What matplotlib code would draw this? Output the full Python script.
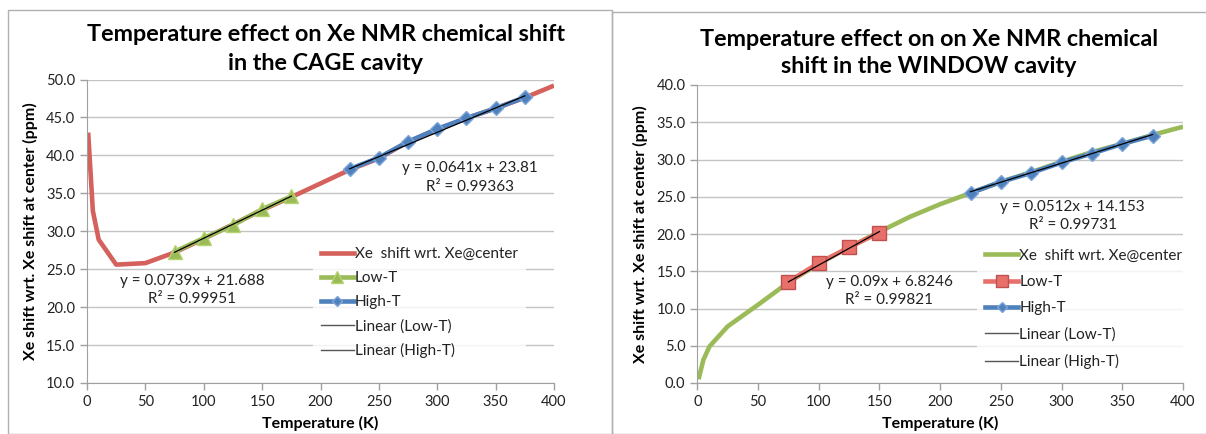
import numpy as np
import matplotlib.pyplot as plt
from matplotlib.lines import Line2D

plt.rcParams['font.family'] = ['Lato', 'DejaVu Sans']

# CAGE cavity
cage_T = [1, 5, 10, 25, 50, 75, 100, 125, 150, 175, 200, 225, 250, 275, 300, 325, 350, 375, 400]
cage_shift = [43.0, 32.7, 28.9, 25.6, 25.8, 27.2, 29.0, 30.9, 32.8, 34.5, 36.3, 38.1, 39.6,
              41.8, 43.4, 44.9, 46.2, 47.6, 49.2]
cage_low_T = [75, 100, 125, 150, 175]
cage_low_y = [27.3, 29.1, 30.8, 32.9, 34.6]
cage_high_T = [225, 250, 275, 300, 325, 350, 375]
cage_high_y = [38.2, 39.7, 41.8, 43.5, 44.9, 46.2, 47.65]
cage_low_fit = (0.0739, 21.688, '0.0739x + 21.688', '0.99951')
cage_high_fit = (0.0641, 23.81, '0.0641x + 23.81', '0.99363')

# WINDOW cavity
win_T = [1, 5, 10, 25, 50, 75, 100, 125, 150, 175, 200, 225, 250, 275, 300, 325, 350, 375, 400]
win_shift = [0.5, 3.1, 4.9, 7.6, 10.5, 13.5, 16.0, 18.2, 20.3, 22.3, 24.0, 25.5, 27.0, 28.3,
             29.7, 31.0, 32.1, 33.3, 34.4]
win_low_T = [75, 100, 125, 150]
win_low_y = [13.6, 16.1, 18.2, 20.2]
win_high_T = [225, 250, 275, 300, 325, 350, 375]
win_high_y = [25.5, 27.0, 28.2, 29.6, 30.8, 32.1, 33.2]
win_low_fit = (0.09, 6.8246, '0.09x + 6.8246', '0.99821')
win_high_fit = (0.0512, 14.153, '0.0512x + 14.153', '0.99731')

RED, RED_EDGE = '#d4615c', '#c0504d'
GREEN, GREEN_EDGE = '#9bbb59', '#b5d36f'
BLUE, BLUE_EDGE = '#4f81bd', '#7ea6d9'

W, H = 1206, 434
fig = plt.figure(figsize=(W / 100, H / 100), dpi=100)

# chart frames
fig.add_artist(plt.Rectangle((8 / W, 0), 604 / W, 1 - 10 / H, transform=fig.transFigure,
                             fill=False, ec='#b0b0b0', lw=1))
fig.add_artist(plt.Rectangle((612 / W, 0), 600 / W, 1 - 12 / H, transform=fig.transFigure,
                             fill=False, ec='#b0b0b0', lw=1))


def px_axes(x0, x1, ytop, ybot):
    return fig.add_axes([x0 / W, 1 - ybot / H, (x1 - x0) / W, (ybot - ytop) / H])


def style(ax, ylo, yhi):
    ax.set_xlim(0, 400)
    ax.set_ylim(ylo, yhi)
    ax.set_xticks(np.arange(0, 401, 50))
    ax.set_yticks(np.arange(ylo, yhi + 0.1, 5))
    ax.yaxis.set_major_formatter(plt.FormatStrFormatter('%.1f'))
    ax.grid(axis='y', color='#c4c4c4', lw=1)
    ax.set_axisbelow(True)
    for s in ['top', 'right']:
        ax.spines[s].set_visible(False)
    for s in ['left', 'bottom']:
        ax.spines[s].set_color('#a0a0a0')
    ax.tick_params(colors='#a0a0a0', labelcolor='#222222', labelsize=10.5, length=5, width=1)
    ax.set_xlabel('Temperature (K)', fontsize=11.5, fontweight='bold', labelpad=5)
    ax.set_ylabel('Xe shift wrt. Xe shift at center (ppm)', fontsize=11.5, fontweight='bold',
                  labelpad=6)


def draw(ax, T, y, main_c, lowT, lowy, low_c, low_ec, low_m, low_ms,
         highT, highy, low_fit, high_fit):
    ax.plot(T, y, color=main_c, lw=3.3, solid_capstyle='butt', zorder=2)
    ax.plot(lowT, lowy, color=low_c, lw=3.3, marker=low_m, ms=low_ms, mfc=low_c, mec=low_ec,
            mew=1, zorder=3)
    ax.plot(highT, highy, color=BLUE, lw=3.3, marker='D', ms=7, mfc=BLUE, mec=BLUE_EDGE,
            mew=1, zorder=3)
    for xs, fit in [(lowT, low_fit), (highT, high_fit)]:
        xx = np.array([xs[0], xs[-1]])
        ax.plot(xx, fit[0] * xx + fit[1], color='black', lw=0.9, zorder=4)


def add_legend(ax, main_c, low_c, low_ec, low_m, low_ms, loc, spacing):
    handles = [
        Line2D([], [], color=main_c, lw=3.3),
        Line2D([], [], color=low_c, lw=3.3, marker=low_m, ms=low_ms * 0.8, mfc=low_c, mec=low_ec),
        Line2D([], [], color=BLUE, lw=3.3, marker='D', ms=5.5, mfc=BLUE, mec=BLUE_EDGE),
        Line2D([], [], color='#555555', lw=1),
        Line2D([], [], color='#555555', lw=1),
    ]
    labels = ['Xe  shift wrt. Xe@center', 'Low-T', 'High-T', 'Linear (Low-T)', 'Linear (High-T)']
    leg = ax.legend(handles, labels, loc='upper left', bbox_to_anchor=loc, frameon=True,
                    fontsize=11, handlelength=2.2, handletextpad=0.05, labelspacing=spacing,
                    borderpad=0.5, fancybox=False, borderaxespad=0)
    leg.get_frame().set_edgecolor('none')
    leg.get_frame().set_facecolor('white')
    for t in leg.get_texts():
        t.set_color('#222222')


# left chart
ax1 = px_axes(87, 554, 79.5, 383)
style(ax1, 10, 50)
draw(ax1, cage_T, cage_shift, RED, cage_low_T, cage_low_y, GREEN, GREEN_EDGE, '^', 10,
     cage_high_T, cage_high_y, cage_low_fit, cage_high_fit)
add_legend(ax1, RED, GREEN, GREEN_EDGE, '^', 10, (226 / 467, 1 - 160 / 303.5), 0.65)
ax1.text(90, 24.4, f'y = {cage_low_fit[2]}\nR² = {cage_low_fit[3]}', ha='center', va='top',
         fontsize=11, color='#222222', linespacing=1.35)
ax1.text(328, 39.2, f'y = {cage_high_fit[2]}\nR² = {cage_high_fit[3]}', ha='center', va='top',
         fontsize=11, color='#222222', linespacing=1.4)
fig.text(326 / W, 1 - 49 / H, 'Temperature effect on Xe NMR chemical shift\nin the CAGE cavity',
         ha='center', va='center', fontsize=16.8, fontweight='bold', linespacing=1.45)

# right chart
ax2 = px_axes(697.3, 1183, 85, 383)
style(ax2, 0, 40)
draw(ax2, win_T, win_shift, GREEN, win_low_T, win_low_y, '#e8706b', RED_EDGE, 's', 10,
     win_high_T, win_high_y, win_low_fit, win_high_fit)
add_legend(ax2, GREEN, '#e8706b', RED_EDGE, 's', 10, (280 / 486, 1 - 156 / 298), 0.8)
ax2.text(158, 14.5, f'y = {win_low_fit[2]}\nR² = {win_low_fit[3]}', ha='center', va='top',
         fontsize=11, color='#222222', linespacing=1.35)
ax2.text(309, 24.5, f'y = {win_high_fit[2]}\nR² = {win_high_fit[3]}', ha='center', va='top',
         fontsize=11, color='#222222', linespacing=1.35)
fig.text(929 / W, 1 - 53 / H, 'Temperature effect on on Xe NMR chemical\nshift in the WINDOW cavity',
         ha='center', va='center', fontsize=16.8, fontweight='bold', linespacing=1.4)

fig.savefig('out.png', dpi=100)
